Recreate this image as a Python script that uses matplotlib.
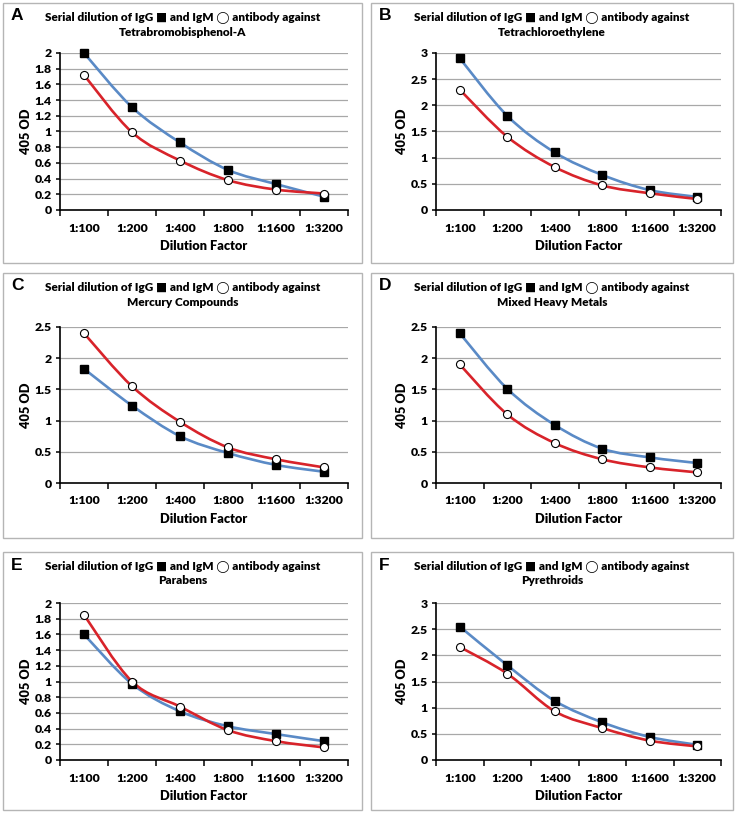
import numpy as np
import matplotlib
matplotlib.use("Agg")
import matplotlib.pyplot as plt
from matplotlib.path import Path
from matplotlib.patches import PathPatch, Rectangle
from matplotlib.ticker import FuncFormatter

W, H = 735, 814

dilutions = ["1:100", "1:200", "1:400", "1:800", "1:1600", "1:3200"]
letters = ["A", "B", "C", "D", "E", "F"]
targets = ["Tetrabromobisphenol-A", "Tetrachloroethylene", "Mercury Compounds",
           "Mixed Heavy Metals", "Parabens", "Pyrethroids"]

igg_A = [2.00, 1.31, 0.86, 0.51, 0.33, 0.17]
igm_A = [1.72, 0.99, 0.63, 0.38, 0.26, 0.21]
igg_B = [2.90, 1.80, 1.10, 0.67, 0.38, 0.25]
igm_B = [2.30, 1.40, 0.82, 0.47, 0.32, 0.21]
igg_C = [1.83, 1.24, 0.75, 0.48, 0.29, 0.18]
igm_C = [2.40, 1.55, 0.98, 0.57, 0.38, 0.25]
igg_D = [2.40, 1.51, 0.93, 0.55, 0.41, 0.32]
igm_D = [1.90, 1.10, 0.64, 0.38, 0.25, 0.17]
igg_E = [1.60, 0.97, 0.62, 0.43, 0.33, 0.24]
igm_E = [1.85, 1.00, 0.68, 0.38, 0.24, 0.16]
igg_F = [2.55, 1.81, 1.13, 0.72, 0.44, 0.29]
igm_F = [2.16, 1.65, 0.93, 0.61, 0.37, 0.26]

ymax_list = [2.0, 3.0, 2.5, 2.5, 2.0, 3.0]
ystep_list = [0.2, 0.5, 0.5, 0.5, 0.2, 0.5]

igg_all = [igg_A, igg_B, igg_C, igg_D, igg_E, igg_F]
igm_all = [igm_A, igm_B, igm_C, igm_D, igm_E, igm_F]

# layout (pixels)
col_box = [(3, 362), (371, 733)]
col_ax = [(60, 348), (436, 721)]
row_box = [(3, 263), (273, 538), (552, 810)]
row_ax = [(53, 210), (327, 483), (603, 760)]

BLUE = "#5a8ac6"
RED = "#d8232a"
FONT = ["Lato", "DejaVu Sans"]


def fx(x):
    return x / W


def fy(y):
    return 1 - y / H


def smooth_path(xs, ys):
    p = np.column_stack([xs, ys]).astype(float)
    n = len(p)
    verts = [p[0]]
    codes = [Path.MOVETO]
    for i in range(n - 1):
        p0 = p[i - 1] if i > 0 else p[i]
        p3 = p[i + 2] if i + 2 < n else p[i + 1]
        c1 = p[i] + (p[i + 1] - p0) / 6
        c2 = p[i + 1] - (p3 - p[i]) / 6
        verts += [c1, c2, p[i + 1]]
        codes += [Path.CURVE4] * 3
    return Path(verts, codes)


fig = plt.figure(figsize=(W / 100, H / 100), dpi=100)
fig.patch.set_facecolor("white")

for k in range(6):
    r, c = divmod(k, 2)
    bx0, bx1 = col_box[c]
    by0, by1 = row_box[r]
    ax0, ax1 = col_ax[c]
    ay0, ay1 = row_ax[r]

    fig.add_artist(Rectangle((fx(bx0), fy(by1)), (bx1 - bx0) / W, (by1 - by0) / H,
                             transform=fig.transFigure, fill=False,
                             edgecolor="#b5b5b5", linewidth=1.0))

    ax = fig.add_axes([fx(ax0), fy(ay1), (ax1 - ax0) / W, (ay1 - ay0) / H])
    x = np.arange(len(dilutions))
    ymax = ymax_list[k]
    step = ystep_list[k]
    ax.set_xlim(-0.5, len(dilutions) - 0.5)
    ax.set_ylim(0, ymax)
    yt = np.round(np.arange(0, ymax + step / 2, step), 2)
    ax.set_yticks(yt)
    ax.yaxis.set_major_formatter(FuncFormatter(lambda v, p: "%g" % v))
    ax.set_xticks(x)
    ax.set_xticklabels(dilutions)
    ax.set_xticks(np.arange(-0.5, len(dilutions)), minor=True)
    ax.tick_params(axis="x", which="major", length=0, pad=9)
    ax.tick_params(axis="x", which="minor", length=4, width=1.1, direction="out")
    ax.tick_params(axis="y", length=3, width=1.1, direction="out", pad=3)
    for lab in ax.get_xticklabels() + ax.get_yticklabels():
        lab.set_fontfamily(FONT)
        lab.set_fontweight("heavy")
        lab.set_fontsize(8.8)
    for s in ["top", "right"]:
        ax.spines[s].set_visible(False)
    for s in ["left", "bottom"]:
        ax.spines[s].set_linewidth(1.2)
        ax.spines[s].set_color("black")
    for v in yt[1:]:
        ax.axhline(v, color="#a8a8a8", linewidth=0.9, zorder=0.5)

    ax.add_patch(PathPatch(smooth_path(x, igg_all[k]), fill=False,
                           edgecolor=BLUE, linewidth=1.9, zorder=2))
    ax.add_patch(PathPatch(smooth_path(x, igm_all[k]), fill=False,
                           edgecolor=RED, linewidth=1.9, zorder=2))
    ax.plot(x, igg_all[k], linestyle="none", marker="s", markersize=5.5,
            color="black", zorder=3, clip_on=False)
    ax.plot(x, igm_all[k], linestyle="none", marker="o", markersize=5.8,
            markerfacecolor="white", markeredgecolor="black",
            markeredgewidth=0.8, zorder=4, clip_on=False)

    ax.set_xlabel("Dilution Factor", fontfamily=FONT, fontweight="heavy",
                  fontsize=9.2, labelpad=5)
    ax.set_ylabel("405 OD", fontfamily=FONT, fontweight="heavy",
                  fontsize=9.2, labelpad=2)

    cx = (bx0 + bx1) / 2
    fig.text(fx(cx), fy(by0 + 15),
             "Serial dilution of IgG \u25A0 and IgM \u25EF antibody against",
             ha="center", va="center", fontfamily=FONT, fontweight="heavy",
             fontsize=8.5)
    fig.text(fx(cx), fy(by0 + 29), targets[k], ha="center", va="center",
             fontfamily=FONT, fontweight="heavy", fontsize=8.5)
    fig.text(fx(bx0 + 8), fy(by0 + 13), letters[k], ha="left", va="center",
             fontfamily=["Liberation Sans"], fontweight="bold", fontsize=12.5)

fig.savefig("out.png", dpi=100)
